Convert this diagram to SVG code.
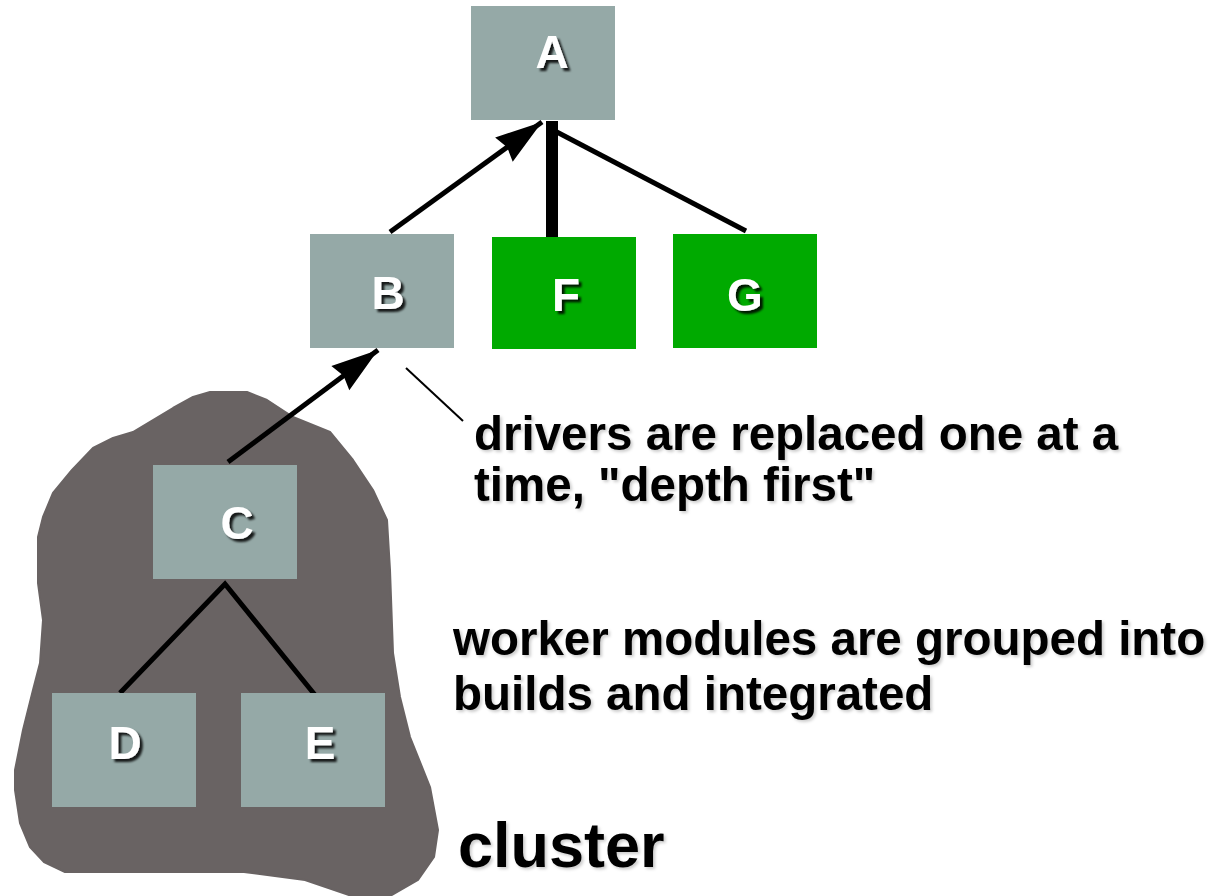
<svg xmlns="http://www.w3.org/2000/svg" width="1219" height="896" viewBox="0 0 1219 896">
  <defs>
    <style>
      .node { fill: #95a9a7; }
      .green { fill: #00aa00; }
      .lbl { font-family: "Liberation Sans", Arial, sans-serif; font-weight: bold; font-size: 46px; fill: #ffffff; text-anchor: middle; filter: url(#shadow); }
      .cap { font-family: "Liberation Sans", Arial, sans-serif; font-weight: bold; font-size: 47.5px; fill: #000000; filter: url(#soft); }
      .edge { stroke: #000000; stroke-width: 5; fill: none; }
    </style>
    <filter id="shadow" x="-30%" y="-30%" width="160%" height="160%">
      <feDropShadow dx="3" dy="3" stdDeviation="1.2" flood-color="#000000" flood-opacity="0.85"/>
    </filter>
    <filter id="soft" x="-10%" y="-30%" width="120%" height="160%">
      <feDropShadow dx="2" dy="2" stdDeviation="1.5" flood-color="#000000" flood-opacity="0.2"/>
    </filter>
    <marker id="arrow" markerUnits="userSpaceOnUse" markerWidth="52" markerHeight="34" viewBox="-48 -17 52 34" refX="0" refY="0" orient="auto">
      <path d="M0,0 L-47,-15 L-43,0 L-47,15 Z" fill="#000000"/>
    </marker>
  </defs>

  <g id="cluster">
    <path fill="#696363" stroke="#696363" stroke-width="2" stroke-linejoin="round" d="M210,392 L247,392 L267,400 L293,417 L330,432 L353,460 L373,490 L387,520 L390,570 L393,653 L400,697 L410,737 L430,787 L438,830 L434,857 L418,880 L392,895 L349,895 L305,880 L244,872 L65,872 L44,862 L30,847 L20,823 L15,790 L15,770 L23,730 L33,690 L40,663 L43,620 L38,583 L38,537 L43,517 L53,493 L72,470 L93,448 L113,438 L133,432 L153,420 L173,408 L193,397 Z"/>
  </g>

  <g id="connectors">
    <line class="edge" x1="390" y1="232" x2="542" y2="122" marker-end="url(#arrow)"/>
    <line x1="552" y1="121" x2="552" y2="237" stroke="#000000" stroke-width="12"/>
    <line class="edge" x1="553" y1="130" x2="746" y2="231"/>
    <line class="edge" x1="228" y1="462" x2="378" y2="350" marker-end="url(#arrow)"/>
    <polyline class="edge" points="120,693 225,584 315,695" stroke-linejoin="miter"/>
    <line x1="406" y1="368" x2="463" y2="421" stroke="#000000" stroke-width="2"/>
  </g>

  <g id="node-A">
    <rect class="node" x="471" y="6" width="144" height="114"/>
    <text class="lbl" x="552" y="68">A</text>
  </g>
  <g id="node-B">
    <rect class="node" x="310" y="234" width="144" height="114"/>
    <text class="lbl" x="388" y="309">B</text>
  </g>
  <g id="node-F">
    <rect class="green" x="492" y="237" width="144" height="112"/>
    <text class="lbl" x="566" y="311">F</text>
  </g>
  <g id="node-G">
    <rect class="green" x="673" y="234" width="144" height="114"/>
    <text class="lbl" x="745" y="311">G</text>
  </g>
  <g id="node-C">
    <rect class="node" x="153" y="465" width="144" height="114"/>
    <text class="lbl" x="237" y="539">C</text>
  </g>
  <g id="node-D">
    <rect class="node" x="52" y="693" width="144" height="114"/>
    <text class="lbl" x="125" y="759">D</text>
  </g>
  <g id="node-E">
    <rect class="node" x="241" y="693" width="144" height="114"/>
    <text class="lbl" x="320" y="759">E</text>
  </g>

  <g id="captions">
    <text class="cap" x="474" y="450">drivers are replaced one at a</text>
    <text class="cap" x="474" y="501">time, "depth first"</text>
    <text class="cap" x="453" y="655">worker modules are grouped into</text>
    <text class="cap" x="453" y="710">builds and integrated</text>
    <text class="cap" x="458" y="867" style="font-size:63px">cluster</text>
  </g>
</svg>
